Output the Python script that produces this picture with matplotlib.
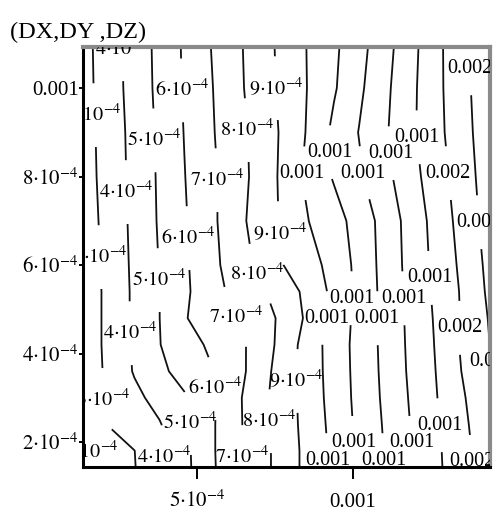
import numpy as np
import matplotlib
matplotlib.use("Agg")
import matplotlib.pyplot as plt

plt.rcParams["font.family"] = ["Liberation Serif", "DejaVu Serif"]
plt.rcParams["mathtext.fontset"] = "stix"

# grid coordinates, in units of 1e-4
dx = np.array([1.4, 2.2, 3.0, 3.8, 4.6, 5.4, 6.2, 7.0, 7.8, 8.6,
               9.4, 10.2, 11.0, 11.8, 12.6, 13.4, 14.2, 15.0]) * 1e-4
dy = np.array([1.2, 1.8, 2.4, 3.0, 3.6, 4.2, 4.8, 5.4, 6.0, 7.0,
               8.0, 9.0, 10.0, 11.2]) * 1e-4

# DZ values, one row per dy (bottom to top), units of 1e-4
dz = np.array([
    [1.56, 2.25, 2.94, 3.79, 4.70, 5.74, 6.69, 7.59, 8.46, 9.34, 10.24, 11.19, 11.97, 12.86, 13.70, 14.53, 15.33, 16.09],
    [1.86, 2.43, 2.99, 3.81, 4.73, 5.78, 6.70, 7.59, 8.46, 9.34, 10.23, 11.17, 12.01, 12.89, 13.73, 14.59, 15.39, 16.15],
    [2.50, 3.07, 3.50, 3.93, 4.75, 5.78, 6.70, 7.63, 8.52, 9.39, 10.31, 11.23, 12.07, 12.96, 13.80, 14.68, 15.48, 16.24],
    [2.50, 3.17, 3.76, 4.33, 4.89, 5.74, 6.71, 7.67, 8.53, 9.44, 10.39, 11.28, 12.14, 13.03, 13.87, 14.78, 15.59, 16.38],
    [2.38, 3.24, 4.08, 4.78, 5.36, 5.89, 6.56, 7.50, 8.54, 9.48, 10.43, 11.31, 12.19, 13.10, 13.93, 14.92, 15.72, 16.50],
    [2.41, 3.28, 4.13, 4.97, 5.56, 6.13, 6.67, 7.37, 8.40, 9.50, 10.44, 11.34, 12.22, 13.14, 13.99, 14.99, 15.81, 16.61],
    [2.39, 3.29, 4.17, 4.99, 5.93, 6.46, 6.94, 7.54, 8.24, 9.25, 10.30, 11.33, 12.26, 13.17, 14.04, 14.96, 15.86, 16.75],
    [2.39, 3.29, 4.17, 4.99, 5.81, 6.58, 7.23, 7.81, 8.50, 9.31, 10.27, 11.25, 12.27, 13.21, 14.11, 14.99, 15.96, 16.92],
    [2.43, 3.32, 4.20, 5.03, 5.84, 6.67, 7.42, 8.20, 9.02, 9.63, 10.36, 11.29, 12.31, 13.26, 14.18, 15.08, 16.04, 16.98],
    [2.52, 3.38, 4.24, 5.10, 5.90, 6.71, 7.60, 8.43, 9.17, 10.01, 10.63, 11.38, 12.35, 13.31, 14.27, 15.23, 16.19, 17.15],
    [2.60, 3.43, 4.28, 5.13, 5.97, 6.75, 7.52, 8.33, 9.25, 10.31, 11.09, 11.85, 12.69, 13.57, 14.46, 15.37, 16.30, 17.22],
    [2.63, 3.47, 4.31, 5.17, 6.03, 6.84, 7.58, 8.35, 9.19, 10.14, 11.23, 12.03, 12.84, 13.74, 14.62, 15.50, 16.39, 17.29],
    [2.70, 3.53, 4.38, 5.24, 6.09, 6.88, 7.69, 8.48, 9.26, 10.07, 10.90, 11.81, 12.74, 13.69, 14.65, 15.57, 16.46, 17.36],
    [2.73, 3.57, 4.41, 5.28, 6.13, 6.97, 7.74, 8.53, 9.31, 10.09, 10.80, 11.62, 12.56, 13.58, 14.63, 15.64, 16.64, 17.64],
]) * 1e-4

# contour levels, in units of 1e-4, with the spots where each is labelled
label_spots = {
    2: [(1.60, 1.77)],
    3: [(1.76, 9.39), (1.89, 6.18), (1.99, 2.95)],
    4: [(2.63, 10.88), (2.76, 7.65), (2.88, 4.46), (3.97, 1.66)],
    5: [(3.69, 8.82), (3.78, 5.66), (4.81, 2.43)],
    6: [(4.55, 9.95), (4.74, 6.61), (5.64, 3.22)],
    7: [(5.71, 7.92), (6.15, 4.80), (6.41, 1.66)],
    8: [(6.60, 9.05), (6.89, 5.77), (7.31, 2.47)],
    9: [(7.56, 10.0), (7.63, 6.72), (8.24, 3.38)],
    10: [(8.27, 8.08), (9.17, 4.80), (9.17, 1.59)],
    11: [(9.20, 8.55), (10.0, 5.25), (10.06, 1.98)],
    12: [(10.32, 8.08), (10.83, 4.80), (11.03, 1.59)],
    13: [(11.22, 8.53), (11.67, 5.25), (11.89, 1.98)],
    14: [(12.08, 8.89), (12.5, 5.71), (12.79, 2.38)],
    15: [(13.08, 8.08), (13.43, 4.58), (13.81, 1.55)],
    16: [(13.78, 10.45), (14.07, 6.97), (14.39, 3.81)],
}


def fmt(v):
    n = int(round(v * 1e4))
    if n >= 10:
        return "0.00%d" % ((n + 5) // 10)
    if n == 1:
        return r"$10^{-4}$"
    return r"$%d{\cdot}10^{-4}$" % n


fig = plt.figure(figsize=(4.93, 5.14), dpi=100)
ax = fig.add_axes([83 / 493, 47 / 514, 407 / 493, 420 / 514])

labels = []
for n, spots in label_spots.items():
    # one contour set per level so the labels land on the right line
    cs = ax.contour(dx, dy, dz, levels=[n * 1e-4], colors="#111111",
                    linewidths=1.3)
    pts = [(x * 1e-4, y * 1e-4) for x, y in spots]
    labels += list(cs.clabel(fmt=fmt, manual=pts, inline=True,
                             inline_spacing=3, fontsize=14.5))
for t in labels:
    t.set_rotation(0)
    t.set_color("black")
    t.set_clip_on(True)
    t.set_clip_box(ax.bbox)

ax.set_xlim(1.35e-4, 1.44e-3)
ax.set_ylim(1.435e-4, 1.093e-3)

ax.set_xticks([5e-4, 1e-3])
ax.set_xticklabels([fmt(5e-4), fmt(1e-3)])
ax.set_yticks([2e-4, 4e-4, 6e-4, 8e-4, 1e-3])
ax.set_yticklabels([fmt(v) for v in [2e-4, 4e-4, 6e-4, 8e-4, 1e-3]])
ax.tick_params(axis="x", direction="out", length=8.5, width=1.4, pad=20,
               labelsize=15)
ax.tick_params(axis="y", direction="out", length=3, width=1.4, pad=0,
               labelsize=15)
for lab in ax.get_xticklabels():
    lab.set_verticalalignment("baseline")

for side in ["left", "bottom"]:
    ax.spines[side].set_linewidth(2.2)
    ax.spines[side].set_color("black")
for side in ["top", "right"]:
    ax.spines[side].set_linewidth(3)
    ax.spines[side].set_color("#8a8a8a")

fig.text(10 / 493, 1 - 32 / 514, "(DX,DY ,DZ)", fontsize=17.5,
         ha="left", va="center")

fig.savefig("out.png", dpi=100)
